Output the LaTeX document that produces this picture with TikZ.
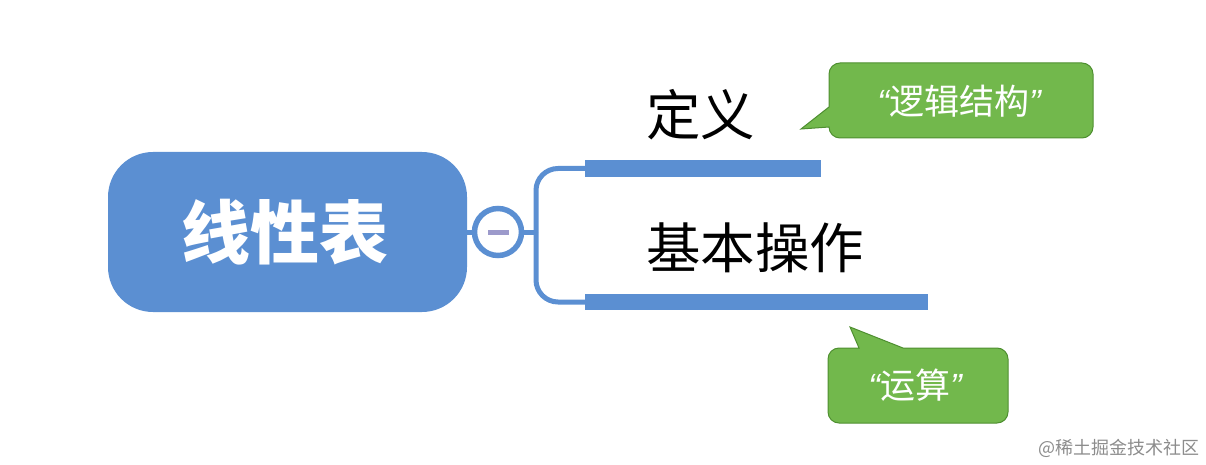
\documentclass[tikz,border=0pt]{standalone}
\usepackage{fontspec}
\setmainfont{Liberation Sans}
\newfontfamily\cjk{Noto Sans CJK SC}
\definecolor{mapblue}{HTML}{5B8FD2}
\definecolor{mapgreen}{HTML}{72B84C}
\definecolor{greenedge}{HTML}{4E8F30}
\definecolor{dashpurple}{HTML}{9C9ACB}
\begin{document}
\begin{tikzpicture}[x=1pt, y=-1pt,
		main/.style = {fill=mapblue, text=white, rounded corners=45pt, minimum width=359pt, minimum height=160pt, inner sep=0pt, font=\cjk\fontsize{69}{69}\selectfont\bfseries},
		toggle/.style = {circle, draw=mapblue, line width=5.5pt, fill=white, minimum size=47pt, inner sep=0pt},
		bar/.style = {fill=mapblue, inner sep=0pt, anchor=west},
		topic/.style = {text=black, inner sep=0pt, anchor=west, font=\cjk\fontsize{54.5}{54.5}\selectfont},
		branch/.style = {draw=mapblue, line width=5pt},
		bubble/.style = {fill=mapgreen, draw=greenedge, line width=1pt},
		note/.style = {text=white, inner sep=0pt, font=\cjk\fontsize{35}{35}\selectfont}]
		\useasboundingbox (0,0) rectangle (1206,465);
		\node[main] (list) at (287.5,232) {\kern-5pt 线性表};
		\node[toggle] (fold) at (498,232) {};
		\node[fill=dashpurple, minimum width=21pt, minimum height=5pt, inner sep=0pt] (dash) at (fold) {};
		\node[bar, minimum width=236pt, minimum height=17pt] (defbar) at (585,168.5) {};
		\node[bar, minimum width=343pt, minimum height=16pt] (opbar) at (585,302) {};
		\node[topic] (def) at (646,115) {定义};
		\node[topic] (op) at (646,248) {基本操作};
		\coordinate (fork) at (536,232);
		\draw[branch] (list.east) -- (fold.west);
		\draw[branch] (fold.east) -- (fork);
		\draw[branch, rounded corners=22pt] (defbar.west) -| (fork);
		\draw[branch, rounded corners=22pt] (opbar.west) -| (fork);
		\coordinate (logictip) at (801,129);
		\coordinate (ruletip) at (850,327);
		\draw[bubble] (829,127) -- (logictip) -- (829,107)
			[rounded corners=11pt] -- (829,63) -- (1093,63) -- (1093,138) -- (829,138) [sharp corners] -- (829,127) -- cycle;
		\draw[bubble] (903,348)
			[rounded corners=11pt] -- (1008,348) -- (1008,423) -- (828,423) -- (828,348) [sharp corners] -- (859,348) -- (ruletip) -- cycle;
		\node[note] (logic) at (959,101) {\rmfamily\itshape“\cjk\upshape 逻辑结构\rmfamily\itshape”};
		\node[note] (rule) at (915,385) {\rmfamily\itshape“\cjk\upshape 运算\rmfamily\itshape”};
		\node[text=black!45, inner sep=0pt, anchor=east, font=\cjk\fontsize{18}{18}\selectfont] (mark) at (1200,448) {@稀土掘金技术社区};
	\end{tikzpicture}
\end{document}
